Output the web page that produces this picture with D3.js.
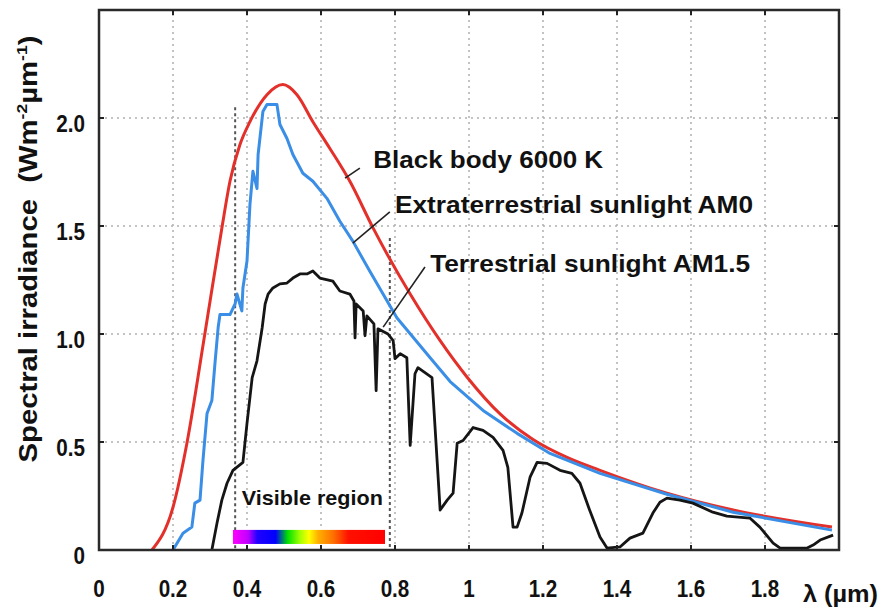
<!DOCTYPE html>
<html><head><meta charset="utf-8">
<script src="https://cdn.jsdelivr.net/npm/d3@7/dist/d3.min.js"></script>
<style>body{margin:0;background:#fff}text{font-family:"Liberation Sans",Arial,sans-serif;font-weight:bold;fill:#111}</style>
</head><body>
<svg id="c" width="887" height="616"></svg>
<script>
// ---- data ----
const xTicks = [0, 0.2, 0.4, 0.6, 0.8, 1.0, 1.2, 1.4, 1.6, 1.8];
const xTickLabels = ["0", "0.2", "0.4", "0.6", "0.8", "1", "1.2", "1.4", "1.6", "1.8"];
const yTicks = [0, 0.5, 1.0, 1.5, 2.0];
const yTickLabels = ["0", "0.5", "1.0", "1.5", "2.0"];

// Black body 6000 K (scaled)
const bbX = [0.143,0.2,0.238,0.286,0.332,0.354,0.381,0.408,0.454,0.497,0.535,0.578,0.624,0.678,0.741,0.841,0.922,0.995,1.084,1.173,1.265,1.354,1.535,1.714,1.981];
const bbY = [0,0.198,0.498,1.0,1.49,1.707,1.877,1.983,2.108,2.155,2.108,1.983,1.859,1.707,1.49,1.185,0.969,0.80,0.63,0.512,0.429,0.369,0.263,0.185,0.106];

// Extraterrestrial sunlight AM0
const am0X = [0.2,0.227,0.251,0.259,0.273,0.281,0.292,0.305,0.314,0.322,0.327,0.354,0.368,0.373,0.386,0.389,0.4,0.408,0.416,0.427,0.43,0.443,0.454,0.481,0.489,0.508,0.524,0.551,0.578,0.616,0.651,0.686,0.732,0.805,0.895,0.949,1.038,1.13,1.219,1.354,1.535,1.714,1.981];
const am0Y = [0,0.078,0.106,0.217,0.231,0.415,0.632,0.692,0.876,1.03,1.09,1.09,1.14,1.185,1.107,1.213,1.338,1.60,1.753,1.674,1.831,2.03,2.062,2.062,1.97,1.905,1.831,1.744,1.707,1.628,1.522,1.43,1.29,1.075,0.89,0.78,0.646,0.54,0.447,0.355,0.258,0.175,0.092];

// Terrestrial sunlight AM1.5
const am15X = [0.305,0.319,0.332,0.346,0.362,0.389,0.4,0.414,0.427,0.441,0.449,0.457,0.470,0.489,0.508,0.524,0.543,0.562,0.578,0.597,0.632,0.651,0.678,0.689,0.692,0.695,0.714,0.719,0.724,0.743,0.749,0.754,0.781,0.795,0.8,0.814,0.832,0.841,0.854,0.862,0.9,0.922,0.941,0.957,0.968,0.984,1.011,1.038,1.065,1.092,1.105,1.119,1.13,1.143,1.165,1.184,1.211,1.246,1.278,1.3,1.327,1.354,1.373,1.408,1.435,1.47,1.497,1.516,1.535,1.57,1.605,1.659,1.697,1.759,1.786,1.822,1.841,1.914,1.930,1.949,1.984];
const am15Y = [0,0.125,0.231,0.309,0.369,0.406,0.586,0.798,0.876,1.029,1.139,1.185,1.213,1.232,1.236,1.259,1.278,1.278,1.292,1.259,1.245,1.199,1.185,1.153,0.982,1.139,1.107,0.992,1.084,1.047,0.738,1.024,1.0,0.969,0.886,0.909,0.890,0.484,0.816,0.844,0.798,0.185,0.231,0.263,0.494,0.507,0.567,0.554,0.521,0.461,0.383,0.106,0.106,0.171,0.337,0.406,0.401,0.369,0.355,0.309,0.18,0.06,0.009,0.014,0.055,0.078,0.171,0.221,0.24,0.231,0.217,0.175,0.157,0.148,0.106,0.032,0.009,0.009,0.023,0.046,0.069];

const labels = ["Black body 6000 K", "Extraterrestrial sunlight AM0", "Terrestrial sunlight AM1.5"];
const labelX = [0.741, 0.80, 0.895];
const labelY = [1.768, 1.56, 1.287];
const labelW = [230, 358, 320];
const leaderFrom = [[0.705,1.768],[0.786,1.565],[0.881,1.310]];
const leaderTo = [[0.665,1.722],[0.686,1.421],[0.768,1.032]];

const visibleLines = [0.368, 0.786];
const visibleTops = [2.05, 1.444];
const visibleBand = [0.362, 0.773];
const spectrumStops = [[0,"#ff00ff"],[0.1,"#c000ff"],[0.16,"#2000ff"],[0.28,"#0000ff"],[0.36,"#00e000"],[0.44,"#a0ff00"],[0.5,"#ffff00"],[0.56,"#ffb000"],[0.66,"#ff7000"],[0.76,"#ff1000"],[1,"#ff0000"]];

// ---- chart ----
const svg = d3.select("#c");
const x = d3.scaleLinear().domain([0, 2]).range([99, 839]);
const y = d3.scaleLinear().domain([0, 2.5]).range([550, 10]);

function squeeze(sel, factor){
  sel.each(function(){ const w=this.getComputedTextLength(); d3.select(this).attr("textLength", w*factor).attr("lengthAdjust","spacingAndGlyphs"); });
}

// grid
const grid = svg.append("g").attr("stroke","#b0b0b0").attr("stroke-width",1.5).attr("stroke-dasharray","2,4");
xTicks.filter(d=>d>0).forEach(d=>grid.append("line").attr("x1",x(d)).attr("x2",x(d)).attr("y1",y(0)).attr("y2",y(2.5)));
yTicks.filter(d=>d>0).forEach(d=>grid.append("line").attr("y1",y(d)).attr("y2",y(d)).attr("x1",x(0)).attr("x2",x(2)));

// visible region lines
visibleLines.forEach((d,i)=>svg.append("line").attr("x1",x(d)).attr("x2",x(d)).attr("y1",y(visibleTops[i])).attr("y2",y(0))
  .attr("stroke","#555").attr("stroke-width",2).attr("stroke-dasharray","3,3"));

// spectrum bar
const defs = svg.append("defs");
const grad = defs.append("linearGradient").attr("id","spec").attr("x1","0").attr("x2","1").attr("y1","0").attr("y2","0");
spectrumStops.forEach(s=>grad.append("stop").attr("offset",s[0]).attr("stop-color",s[1]));
svg.append("rect").attr("x",x(visibleBand[0])).attr("width",x(visibleBand[1])-x(visibleBand[0]))
  .attr("y",y(0.093)).attr("height",y(0.028)-y(0.093)).attr("fill","url(#spec)");
svg.append("text").attr("x",x(0.386)).attr("y",y(0.209)).attr("font-size",21).text("Visible region")
  .attr("textLength",141).attr("lengthAdjust","spacingAndGlyphs");

defs.append("clipPath").attr("id","clip").append("rect").attr("x",x(0)).attr("y",y(2.5)).attr("width",x(2)-x(0)).attr("height",y(0)-y(2.5));
const plot = svg.append("g").attr("clip-path","url(#clip)");
const lineS = d3.line().x(d=>x(d[0])).y(d=>y(d[1])).curve(d3.curveMonotoneX);
const lineL = d3.line().x(d=>x(d[0])).y(d=>y(d[1]));
plot.append("path").attr("d",lineS(d3.zip(bbX,bbY))).attr("fill","none").attr("stroke","#e3302a").attr("stroke-width",3);
plot.append("path").attr("d",lineL(d3.zip(am0X,am0Y))).attr("fill","none").attr("stroke","#3a8ee6").attr("stroke-width",3).attr("stroke-linejoin","round");
plot.append("path").attr("d",lineL(d3.zip(am15X,am15Y))).attr("fill","none").attr("stroke","#151515").attr("stroke-width",2.8).attr("stroke-linejoin","round");

// annotations
labels.forEach((t,i)=>{
  svg.append("text").attr("x",x(labelX[i])).attr("y",y(labelY[i])).attr("font-size",24).text(t)
    .attr("textLength",labelW[i]).attr("lengthAdjust","spacingAndGlyphs");
  svg.append("line").attr("x1",x(leaderFrom[i][0])).attr("y1",y(leaderFrom[i][1])).attr("x2",x(leaderTo[i][0])).attr("y2",y(leaderTo[i][1]))
    .attr("stroke","#222").attr("stroke-width",1.6);
});

// frame + ticks
svg.append("rect").attr("x",x(0)).attr("y",y(2.5)).attr("width",x(2)-x(0)).attr("height",y(0)-y(2.5))
  .attr("fill","none").attr("stroke","#2a2a2a").attr("stroke-width",2.5);
const tk = svg.append("g").attr("stroke","#222").attr("stroke-width",2);
xTicks.filter(d=>d>0).forEach(d=>{
  tk.append("line").attr("x1",x(d)).attr("x2",x(d)).attr("y1",y(0)).attr("y2",y(0)-5);
  tk.append("line").attr("x1",x(d)).attr("x2",x(d)).attr("y1",y(2.5)).attr("y2",y(2.5)+5);
});
yTicks.filter(d=>d>0).forEach(d=>{
  tk.append("line").attr("y1",y(d)).attr("y2",y(d)).attr("x1",x(0)).attr("x2",x(0)+5);
  tk.append("line").attr("y1",y(d)).attr("y2",y(d)).attr("x1",x(2)).attr("x2",x(2)-5);
});

// tick labels
const xl = svg.append("g").selectAll("text").data(xTicks).join("text")
  .attr("x",d=>x(d)).attr("y",y(0)+47).attr("text-anchor","middle").attr("font-size",24).text((d,i)=>xTickLabels[i]);
squeeze(xl,0.86);
const yl = svg.append("g").selectAll("text").data(yTicks).join("text")
  .attr("x",85).attr("y",d=>y(d)+14).attr("text-anchor","end").attr("font-size",24).text((d,i)=>yTickLabels[i]);
squeeze(yl,0.86);

// axis titles
svg.append("text").attr("x",803).attr("y",602).attr("font-size",24).text("λ (µm)")
  .attr("textLength",75).attr("lengthAdjust","spacingAndGlyphs");
const yt = svg.append("text").attr("transform","translate(37,249) rotate(-90)").attr("text-anchor","middle").attr("font-size",25);
yt.append("tspan").text("Spectral irradiance\u00a0 (Wm");
yt.append("tspan").attr("font-size",15).attr("dy",-10).text("-2");
yt.append("tspan").attr("dy",10).text("µm");
yt.append("tspan").attr("font-size",15).attr("dy",-10).text("-1");
yt.append("tspan").attr("dy",10).text(")");
yt.attr("textLength",427).attr("lengthAdjust","spacingAndGlyphs");
</script>
</body></html>
